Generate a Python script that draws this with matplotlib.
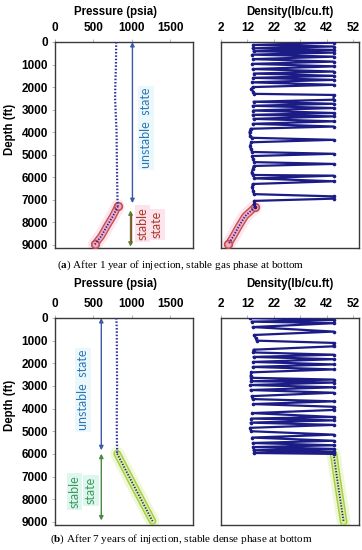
import matplotlib
matplotlib.use("Agg")
import matplotlib.pyplot as plt
import numpy as np

plt.rcParams['font.family'] = ['Liberation Sans', 'DejaVu Sans']
plt.rcParams['mathtext.fontset'] = 'custom'
plt.rcParams['mathtext.rm'] = 'Liberation Serif'
plt.rcParams['mathtext.bf'] = 'Liberation Serif:bold'

# ---------------- data ----------------
depth_ticks = [0, 1000, 2000, 3000, 4000, 5000, 6000, 7000, 8000, 9000]
pressure_ticks = [0, 500, 1000, 1500]
density_ticks = [2, 12, 22, 32, 42, 52]

# (a) after 1 year
a_p_unstable_depth = [0, 1000, 2000, 2500, 3000, 4000, 5000, 6000, 7000, 7290]
a_p_unstable = [798, 795, 786, 784, 790, 803, 806, 810, 815, 820]
a_p_stable_depth = [7290, 7730, 8170, 8610, 8980]
a_p_stable = [820, 755, 677, 604, 520]

a_d_depth = [30, 130, 200, 280, 350, 410, 470, 560, 650, 760, 870, 970, 1080, 1200,
             1310, 1400, 1500, 1590, 1680, 1790, 1900, 2000, 2100, 2200, 2300, 2350,
             2560, 2650, 2740, 2830, 2930, 3040, 3150, 3230, 3300, 3410, 3520, 3630,
             3750, 3850, 4000, 4150, 4250, 4340, 4450, 4600, 4750, 4880, 4960, 5060,
             5200, 5330, 5410, 5500, 5650, 5800, 5900, 5930, 6050, 6180, 6300, 6450,
             6600, 6750, 6850, 6950, 7050, 7200, 7330]
a_d = [44.6, 14.2, 44.6, 14.0, 44.6, 14.3, 44.6, 13.9, 44.6, 14.1, 44.6, 13.8, 44.6, 14.0,
       44.6, 14.4, 44.6, 14.1, 44.6, 13.8, 44.6, 14.0, 13.5, 14.2, 14.5, 44.6,
       44.6, 14.3, 44.6, 14.0, 44.6, 14.2, 44.6, 14.0, 44.6, 14.3, 44.6, 14.0,
       44.6, 13.2, 12.8, 13.0, 13.6, 44.6, 13.5, 13.0, 13.3, 13.8, 44.6, 13.8,
       14.2, 14.6, 44.6, 14.4, 14.0, 13.6, 14.2, 44.6, 14.5, 44.6, 14.0, 13.8,
       14.2, 14.5, 44.6, 44.6, 14.5, 14.6, 14.8]
a_d_stable_depth = [7330, 7730, 8170, 8610, 8980]
a_d_stable = [14.8, 11.1, 8.8, 6.7, 4.8]

# (b) after 7 years
b_p_unstable_depth = [0, 500, 1000, 2000, 3000, 4000, 5000, 5500, 5990]
b_p_unstable = [800, 806, 806, 808, 810, 806, 806, 808, 811]
b_p_stable_depth = [5990, 7000, 8000, 8970]
b_p_stable = [811, 966, 1121, 1272]

b_d_depth = [0, 90, 160, 230, 400, 600, 750, 900, 1000, 1100, 1250, 1400, 1520, 1620,
             1720, 1820, 1940, 2050, 2160, 2270, 2400, 2550, 2640, 2720, 2790, 2850,
             2960, 3060, 3180, 3300, 3450, 3580, 3680, 3800, 3920, 4060, 4200, 4370,
             4440, 4520, 4620, 4720, 4850, 5000, 5150, 5280, 5420, 5520, 5620, 5700,
             5780, 5840, 5900, 5960, 6000]
b_d = [13.0, 44.6, 13.6, 44.6, 14.0, 44.6, 14.5, 15.2, 15.5, 44.6, 44.6, 14.3, 14.2, 44.6,
       14.3, 44.6, 14.1, 44.6, 14.0, 44.6, 13.5, 13.2, 13.4, 44.6, 13.3, 44.6,
       13.0, 44.6, 13.2, 44.6, 13.6, 14.0, 44.6, 14.2, 44.6, 44.6, 13.8, 44.6,
       13.5, 44.6, 13.2, 44.6, 13.0, 13.4, 44.6, 13.8, 44.6, 14.0, 44.6, 14.2,
       44.6, 14.3, 44.6, 14.4, 44.6]
b_d_stable_depth = [6000, 7000, 8000, 9000]
b_d_stable = [44.6, 45.8, 47.1, 48.4]

# ---------------- layout ----------------
W, H = 362, 550
fig = plt.figure(figsize=(W / 100, H / 100), dpi=100)


def rect(x0, y0, x1, y1):
    return [x0 / W, 1 - y1 / H, (x1 - x0) / W, (y1 - y0) / H]


NAVY = '#1c1c86'
DOT = '#33339a'
FRAME = '#3a3a3a'


def style_axes(ax, xlim, xticks, left=True):
    ax.set_xlim(*xlim)
    ax.set_ylim(9140, 0)
    ax.xaxis.tick_top()
    ax.set_xticks(xticks)
    ax.set_xticklabels([str(t) for t in xticks], fontsize=8.5, fontweight='bold')
    ax.tick_params(axis='x', length=2, width=0.6, color='#aaaaaa', pad=4)
    if left:
        ax.set_yticks(depth_ticks)
        ax.set_yticklabels([str(t) for t in depth_ticks], fontsize=8.5, fontweight='bold')
        ax.tick_params(axis='y', length=2, width=0.6, color='#aaaaaa', pad=3)
    else:
        ax.set_yticks([])
    for s in ax.spines.values():
        s.set_color(FRAME)
        s.set_linewidth(1.0)


def highlight(ax, x, y, kind):
    if kind == 'red':
        glow, edge, inner = '#fde6ee', '#c2504f', '#f3a9c4'
    else:
        glow, edge, inner = '#eef8d6', '#a6cc45', '#d6ee98'
    ax.plot(x, y, color=glow, lw=10, solid_capstyle='round', zorder=2)
    ax.plot(x, y, color=edge, lw=5.5, solid_capstyle='round', zorder=3)
    ax.plot(x, y, color=inner, lw=3.5, solid_capstyle='round', zorder=4)
    if kind == 'red':
        ax.plot([x[0], x[-1]], [y[0], y[-1]], 'o', ms=5.5, mfc=inner, mec=edge, mew=1.2, zorder=4)
    ax.plot(x, y, color=NAVY, lw=1.3, ls=(0, (0.7, 0.9)), zorder=5)


def darrow(ax, x, y0, y1, color, headcolor=None):
    hc = headcolor or color
    ax.annotate('', xy=(x, y0), xytext=(x, y1),
                arrowprops=dict(arrowstyle='<|-|>', color=hc, lw=1.0,
                                mutation_scale=6, shrinkA=0, shrinkB=0), zorder=6)
    if headcolor:
        ax.plot([x, x], [y0 + 180, y1 - 180], color=color, lw=1.0, zorder=7)


def label(ax, x, y, s, color, bg):
    ax.text(x, y, s, rotation=90, ha='center', va='center', color=color,
            fontsize=9, family=['Lato', 'DejaVu Sans'], zorder=8,
            bbox=dict(boxstyle='square,pad=0.15', fc=bg, ec='none'))


# ---------- panel (a) ----------
axp_a = fig.add_axes(rect(55, 42, 193, 248))
style_axes(axp_a, (0, 1800), pressure_ticks)
axp_a.plot(a_p_unstable, a_p_unstable_depth, color=DOT, lw=1.6, ls=(0, (0.7, 0.8)), zorder=5)
highlight(axp_a, a_p_stable, a_p_stable_depth, 'red')
darrow(axp_a, 1010, 0, 7150, '#3a5ba8')
label(axp_a, 1190, 3800, 'unstable  state', '#2e75b6', '#eaf8fc')
darrow(axp_a, 985, 7470, 9080, '#a0442e', headcolor='#4f8a3a')
label(axp_a, 1140, 8050, 'stable', '#a83a2a', '#fde3ec')
label(axp_a, 1330, 8100, 'state', '#a83a2a', '#fde3ec')

axd_a = fig.add_axes(rect(221, 42, 359, 248))
style_axes(axd_a, (2, 54.2), density_ticks, left=False)
axd_a.plot(a_d, a_d_depth, color=NAVY, lw=1.6, marker='o', ms=1.6, zorder=5)
highlight(axd_a, a_d_stable, a_d_stable_depth, 'red')

# ---------- panel (b) ----------
axp_b = fig.add_axes(rect(55, 318, 193, 525))
style_axes(axp_b, (0, 1800), pressure_ticks)
axp_b.plot(b_p_unstable, b_p_unstable_depth, color=DOT, lw=1.6, ls=(0, (0.7, 0.8)), zorder=5)
highlight(axp_b, b_p_stable, b_p_stable_depth, 'green')
darrow(axp_b, 604, 0, 5840, '#3a5ba8')
label(axp_b, 366, 3190, 'unstable  state', '#2e75b6', '#eaf8fc')
darrow(axp_b, 604, 5990, 8940, '#4a8a45')
label(axp_b, 255, 7660, 'stable', '#3a9a5c', '#ddf6ee')
label(axp_b, 470, 7620, 'state', '#3a9a5c', '#ddf6ee')

axd_b = fig.add_axes(rect(221, 318, 359, 525))
style_axes(axd_b, (2, 54.2), density_ticks, left=False)
axd_b.plot(b_d, b_d_depth, color=NAVY, lw=1.6, marker='o', ms=1.6, zorder=5)
highlight(axd_b, b_d_stable, b_d_stable_depth, 'green')

# ---------- titles & labels ----------
for yy in (12, 284):
    fig.text(115 / W, 1 - yy / H, 'Pressure (psia)', ha='center', va='center',
             fontsize=8.3, fontweight='bold')
    fig.text(290 / W, 1 - yy / H, 'Density(lb/cu.ft)', ha='center', va='center',
             fontsize=8.3, fontweight='bold')
for yy in (129, 405):
    fig.text(10 / W, 1 - yy / H, 'Depth (ft)', rotation=90, ha='center', va='center',
             fontsize=8.3, fontweight='bold')

fig.text(181 / W, 1 - 265 / H, r'($\mathbf{a}$) After 1 year of injection, stable gas phase at bottom',
         ha='center', va='center', fontsize=8, family='Liberation Serif')
fig.text(181 / W, 1 - 539 / H, r'($\mathbf{b}$) After 7 years of injection, stable dense phase at bottom',
         ha='center', va='center', fontsize=8, family='Liberation Serif')

fig.savefig('out.png', dpi=100)
